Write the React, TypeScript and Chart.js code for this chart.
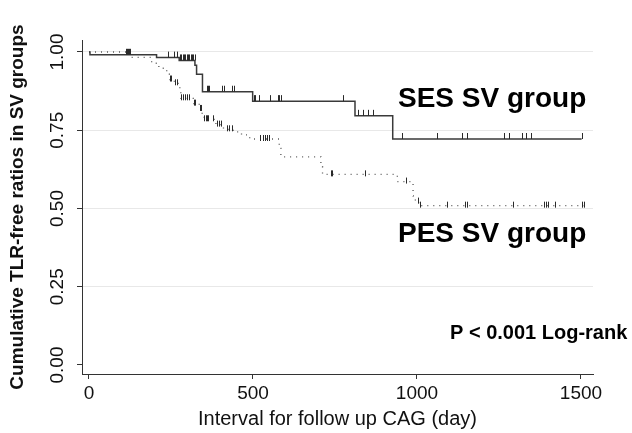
import React, { useEffect, useRef } from "react";
import { Chart, registerables } from "chart.js";

Chart.register(...registerables);

// ---- data ----
const xTickValues = [0, 500, 1000, 1500];
const yTickValues = [0, 0.25, 0.5, 0.75, 1.0];

const sesDays = [0, 3, 206, 275, 323, 328, 346, 499, 811, 926, 1502];
const sesSurv = [1.0, 0.991, 0.982, 0.973, 0.958, 0.929, 0.873, 0.843, 0.796, 0.722, 0.722];
const sesCensorDays = [
  113, 116, 119, 122, 125,
  241, 259, 268,
  278, 282, 286, 290, 294, 298, 302, 306, 310, 314, 318, 322,
  360, 363, 366, 407, 411, 437, 441,
  503, 507, 518, 552, 575, 579, 585, 774,
  820, 835, 850, 866,
  954, 1061, 1137, 1152, 1265, 1280, 1320, 1332, 1347, 1502,
];

const pesDays = [
  0, 125, 191, 213, 237, 245, 260, 277, 280, 318, 336, 345, 351, 387, 410, 440, 465, 490,
  580, 585, 707, 712, 940, 988, 995, 1005, 1508,
];
const pesSurv = [
  1.0, 0.983, 0.964, 0.948, 0.929, 0.912, 0.9, 0.873, 0.852, 0.835, 0.818, 0.8, 0.785, 0.768,
  0.753, 0.745, 0.735, 0.722, 0.692, 0.665, 0.634, 0.609, 0.586, 0.54, 0.522, 0.509, 0.509,
];
const pesCensorDays = [
  247, 250, 262, 268,
  282, 288, 294, 300, 306,
  320, 324, 338, 342,
  352, 356, 360, 364, 378, 390, 396, 402,
  420, 428, 436,
  520, 530, 536, 542, 548,
  738, 742, 841, 968,
  1003, 1008, 1090, 1146, 1152, 1293, 1386, 1392, 1398, 1421, 1503, 1508,
];

const sesLabel = "SES SV group";
const pesLabel = "PES SV group";
const pLabel = "P < 0.001 Log-rank";
const yTitle = "Cumulative TLR-free ratios in SV groups";
const xTitle = "Interval for follow up CAG (day)";

const FONT = "'Liberation Sans', Arial, sans-serif";

function survAt(days: number[], surv: number[], t: number): number {
  let s = surv[0];
  for (let i = 0; i < days.length; i++) {
    if (days[i] <= t) s = surv[i];
    else break;
  }
  return s;
}

const censorPlugin = {
  id: "censorMarks",
  afterDatasetsDraw(chart: any) {
    const { ctx, scales } = chart;
    const xs = scales.x;
    const ys = scales.y;
    ctx.save();
    ctx.strokeStyle = "#2a2a2a";
    ctx.lineWidth = 1;
    const drawSet = (cd: number[], days: number[], surv: number[], up: number, down: number) => {
      for (const t of cd) {
        const px = Math.round(xs.getPixelForValue(t)) + 0.5;
        const py = ys.getPixelForValue(survAt(days, surv, t));
        ctx.beginPath();
        ctx.moveTo(px, py + down);
        ctx.lineTo(px, py - up);
        ctx.stroke();
      }
    };
    drawSet(sesCensorDays, sesDays, sesSurv, 6, 0);
    drawSet(pesCensorDays, pesDays, pesSurv, 4, 2);
    ctx.restore();
  },
};

const textPlugin = {
  id: "groupText",
  afterDraw(chart: any) {
    const { ctx } = chart;
    ctx.save();
    ctx.fillStyle = "#000";
    ctx.textAlign = "left";
    ctx.textBaseline = "alphabetic";
    ctx.font = `bold 28px ${FONT}`;
    ctx.fillText(sesLabel, 398, 107);
    ctx.fillText(pesLabel, 398, 242);
    ctx.font = `bold 20px ${FONT}`;
    ctx.fillText(pLabel, 450, 339);
    ctx.restore();
  },
};

export default function App() {
  const ref = useRef<HTMLCanvasElement | null>(null);

  useEffect(() => {
    if (!ref.current) return;
    const chart = new Chart(ref.current, {
      type: "line",
      data: {
        datasets: [
          {
            label: sesLabel,
            data: sesDays.map((d, i) => ({ x: d, y: sesSurv[i] })),
            borderColor: "#3a3a3a",
            borderWidth: 1.5,
            pointRadius: 0,
            stepped: "before",
            fill: false,
          },
          {
            label: pesLabel,
            data: pesDays.map((d, i) => ({ x: d, y: pesSurv[i] })),
            borderColor: "#555",
            borderWidth: 1.3,
            borderDash: [1, 5],
            pointRadius: 0,
            stepped: "before",
            fill: false,
          },
        ],
      },
      options: {
        animation: false,
        responsive: false,
        devicePixelRatio: 1,
        layout: { padding: { left: 0, top: 40, right: 39, bottom: 0 } },
        plugins: {
          legend: { display: false },
          tooltip: { enabled: false },
        },
        scales: {
          x: {
            type: "linear",
            min: -21.3,
            max: 1536.6,
            afterBuildTicks: (s: any) => {
              s.ticks = xTickValues.map((v) => ({ value: v }));
            },
            afterFit: (s: any) => {
              s.height = 59;
            },
            ticks: {
              color: "#111",
              font: { family: FONT, size: 19 },
              padding: 3,
              maxRotation: 0,
              callback: (v: any) => String(v),
            },
            grid: {
              drawOnChartArea: false,
              tickLength: 5,
              tickColor: "#333",
            },
            border: { display: true, color: "#333", width: 1 },
            title: {
              display: true,
              text: xTitle,
              color: "#111",
              font: { family: FONT, size: 20 },
              padding: { top: 0, bottom: 2 },
            },
          },
          y: {
            type: "linear",
            min: -0.0288,
            max: 1.0383,
            afterBuildTicks: (s: any) => {
              s.ticks = yTickValues.map((v) => ({ value: v }));
            },
            afterFit: (s: any) => {
              s.width = 82;
            },
            ticks: {
              color: "#111",
              font: { family: FONT, size: 19 },
              padding: 1,
              minRotation: 90,
              maxRotation: 90,
              crossAlign: "center",
              callback: (v: any) => Number(v).toFixed(2),
            },
            grid: {
              color: (c: any) => (c.tick && c.tick.value === 0 ? "rgba(0,0,0,0)" : "#e8e8e8"),
              tickColor: "#333",
              tickLength: 5,
            },
            border: { display: true, color: "#333", width: 1 },
            title: {
              display: true,
              text: yTitle,
              color: "#111",
              font: { family: FONT, size: 19, weight: "bold" },
              padding: { top: 6, bottom: 0 },
            },
          },
        },
      },
      plugins: [censorPlugin, textPlugin],
    } as any);
    return () => chart.destroy();
  }, []);

  return (
    <div style={{ position: "fixed", left: 0, top: 0, width: 632, height: 433, background: "#fff" }}>
      <canvas ref={ref} width={632} height={433} style={{ display: "block" }} />
    </div>
  );
}
